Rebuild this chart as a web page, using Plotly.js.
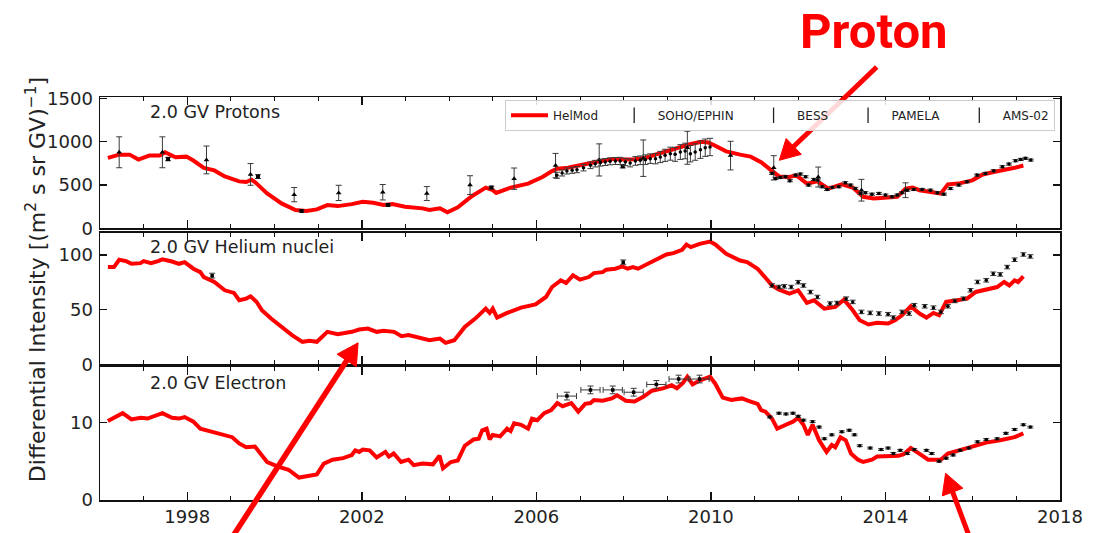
<!DOCTYPE html>
<html><head><meta charset="utf-8">
<script src="https://cdn.plot.ly/plotly-3.0.1.min.js"></script>
<style>html,body{margin:0;padding:0;background:#fff}#chart{width:1102px;height:533px}</style>
</head><body><div id="chart"></div>
<script>
// ---------- Protons (2.0 GV) ----------
const protonYears = [1996.18,1996.44,1996.68,1996.88,1997.13,1997.37,1997.49,1997.73,1997.98,1998.14,1998.38,1998.62,1998.86,1999.19,1999.35,1999.47,1999.55,1999.83,2000.16,2000.48,2000.73,2000.97,2001.21,2001.45,2001.77,2002.02,2002.26,2002.5,2002.7,2002.99,2003.39,2003.55,2003.79,2003.96,2004.2,2004.52,2004.84,2005.0,2005.08,2005.41,2005.81,2006.14,2006.36,2006.48,2006.72,2006.96,2007.2,2007.44,2007.77,2008.0,2008.25,2008.49,2008.73,2009.06,2009.38,2009.54,2009.78,2009.94,2010.1,2010.35,2010.67,2010.91,2011.15,2011.4,2011.56,2011.8,2011.96,2012.2,2012.44,2012.69,2013.0,2013.25,2013.49,2013.73,2014.02,2014.27,2014.46,2014.62,2014.78,2015.02,2015.27,2015.43,2015.67,2015.99,2016.23,2016.48,2016.72,2016.96,2017.16];
const protonHelMod = [813,851,851,794,840,840,878,821,828,783,699,669,600,543,536,562,536,403,289,213,201,220,270,258,281,308,296,270,281,251,232,213,232,186,243,372,471,441,410,471,517,593,661,688,699,726,752,775,802,794,798,813,851,904,954,973,999,992,954,889,851,828,764,669,600,593,612,517,543,460,509,471,365,346,357,365,460,471,441,422,403,509,517,555,623,650,669,699,726];

const protonSohoYears = [1996.44,1997.43,1998.44,1999.45,2000.45,2001.47,2002.48,2003.49,2004.48,2005.49,2006.44,2007.44,2008.45,2009.46,2010.45,2011.44,2012.46,2013.45,2014.46];
const protonSohoVals  = [878,878,790,623,390,410,418,403,500,574,725,790,810,930,840,699,593,441,441];
const protonSohoErr   = [178,178,160,125,82,88,89,80,108,123,140,185,210,190,165,140,115,125,85];

const protonBessYears = [1997.56,1999.62,2000.62,2002.6,2004.97,2007.98];
const protonBessVals  = [800,598,203,270,471,716];
const protonBessErr   = [20,22,10,12,15,18];

const protonPamelaYears = [2006.47,2006.59,2006.7,2006.82,2006.93,2007.08,2007.24,2007.35,2007.47,2007.58,2007.69,2007.81,2007.92,2008.04,2008.15,2008.27,2008.38,2008.5,2008.61,2008.73,2008.84,2008.95,2009.07,2009.18,2009.3,2009.41,2009.53,2009.64,2009.76,2009.87,2009.98];
const protonPamelaVals  = [613,640,663,671,678,701,728,747,759,766,774,778,778,766,755,778,786,793,805,805,824,843,862,854,881,893,862,881,908,931,939];
const protonPamelaErr   = [35,35,35,35,35,38,38,38,40,40,40,40,42,42,45,50,50,55,55,60,65,70,75,80,85,90,95,95,100,100,100];

const protonAmsYears = [2011.4,2011.48,2011.59,2011.71,2011.81,2011.94,2012.05,2012.17,2012.24,2012.36,2012.45,2012.55,2012.66,2012.78,2012.93,2013.08,2013.2,2013.31,2013.43,2013.54,2013.69,2013.85,2014.0,2014.15,2014.27,2014.38,2014.5,2014.65,2014.84,2015.03,2015.19,2015.34,2015.49,2015.68,2015.87,2016.1,2016.29,2016.48,2016.68,2016.83,2016.98,2017.1,2017.21,2017.33];
const protonAmsVals  = [635,577,588,596,550,615,627,596,500,565,558,481,450,473,481,527,500,462,404,412,396,404,385,365,385,412,442,450,450,442,412,396,462,500,538,615,635,665,712,742,781,796,808,788];

// ---------- Helium nuclei (2.0 GV) ----------
const heliumYears = [1996.18,1996.32,1996.44,1996.6,1996.72,1996.93,1997.0,1997.17,1997.33,1997.43,1997.65,1997.81,1997.94,1998.14,1998.3,1998.38,1998.62,1998.86,1999.07,1999.19,1999.35,1999.45,1999.59,1999.71,1999.92,2000.16,2000.4,2000.64,2000.8,2000.97,2001.21,2001.45,2001.77,2001.94,2002.14,2002.34,2002.5,2002.74,2002.91,2003.07,2003.39,2003.55,2003.79,2003.92,2004.12,2004.36,2004.6,2004.84,2004.93,2005.0,2005.1,2005.33,2005.65,2005.98,2006.22,2006.36,2006.56,2006.68,2006.84,2007.0,2007.2,2007.32,2007.52,2007.6,2007.81,2007.97,2008.09,2008.21,2008.33,2008.49,2008.73,2008.98,2009.14,2009.34,2009.44,2009.54,2009.74,2009.98,2010.1,2010.35,2010.67,2010.83,2011.07,2011.23,2011.4,2011.56,2011.8,2012.0,2012.2,2012.36,2012.6,2012.85,2013.05,2013.25,2013.41,2013.61,2013.81,2014.06,2014.22,2014.38,2014.58,2014.78,2014.94,2015.1,2015.23,2015.39,2015.59,2015.87,2016.07,2016.31,2016.56,2016.72,2016.84,2016.96,2017.04,2017.16];
const heliumHelMod = [88.8,88.8,95.5,94.2,91.8,92.4,94.2,92.4,94.2,95.8,93.9,91.8,93.3,87.3,84.2,79.7,75.2,67.6,65.2,58.5,60,62.1,57,49.4,41.8,34.2,26.7,20.6,21.5,20.6,29.7,27.6,29.7,31.8,32.7,29.7,30.6,29.7,25.8,26.7,23.6,22.1,23.6,19.7,22.1,34.2,41.8,50.9,47,50.9,42.7,47,51.8,54.8,61.5,70.6,76.7,74.2,81.2,77.3,79.7,83.3,84.2,86.4,87.3,89.4,87.3,88.8,87.3,90.3,94.8,100.3,101.5,104.5,109.4,107,110,112.1,109.4,100.9,94.8,93.3,87.3,79.7,72.1,68.2,64.5,67.6,56.1,58.5,50.9,52.4,59.1,49.4,40.3,36.4,37.9,37.3,40.3,44.8,53,46.4,42.7,47,44.8,57,57.9,60,66.1,68.2,70.6,75.2,72.1,76.7,75.2,80.3];

const heliumBessYears = [1998.57,2007.99];
const heliumBessVals  = [81,93.3];
const heliumBessErr   = [2.2,2.0];

const heliumAmsYears = [2011.4,2011.56,2011.68,2011.84,2012.0,2012.12,2012.28,2012.44,2012.73,2012.89,2013.1,2013.25,2013.45,2013.65,2013.85,2014.06,2014.18,2014.38,2014.54,2014.66,2014.9,2015.1,2015.27,2015.43,2015.59,2015.79,2015.95,2016.11,2016.31,2016.47,2016.63,2016.79,2016.96,2017.16,2017.32];
const heliumAmsVals  = [72,70.6,71.2,70.6,75,72,66,61.5,55.5,56,60,57,47.9,47,46.4,45.8,42.7,47.9,46.4,54,53,51.8,47.9,53,57.9,60,67.6,75.2,76.7,82.7,82.1,88.8,95.5,100.3,98.5];

// ---------- Electrons (2.0 GV) ----------
const electronYears = [1996.18,1996.36,1996.52,1996.72,1996.93,1997.09,1997.25,1997.43,1997.65,1997.81,1997.94,1998.14,1998.3,1998.54,1998.78,1999.03,1999.19,1999.35,1999.55,1999.71,1999.83,2000.08,2000.32,2000.56,2000.8,2000.97,2001.13,2001.33,2001.57,2001.77,2001.85,2001.94,2002.02,2002.18,2002.34,2002.46,2002.54,2002.62,2002.73,2002.9,2003.07,2003.19,2003.39,2003.63,2003.78,2003.86,2004.04,2004.2,2004.36,2004.56,2004.68,2004.76,2004.86,2004.93,2005.0,2005.17,2005.33,2005.41,2005.49,2005.65,2005.81,2005.9,2006.02,2006.18,2006.34,2006.48,2006.6,2006.8,2006.96,2007.12,2007.24,2007.32,2007.52,2007.73,2007.85,2008.05,2008.25,2008.45,2008.65,2008.9,2009.1,2009.22,2009.36,2009.46,2009.58,2009.74,2009.86,2009.98,2010.1,2010.27,2010.47,2010.71,2010.91,2011.07,2011.15,2011.25,2011.4,2011.52,2011.72,2011.88,2012.0,2012.12,2012.22,2012.33,2012.48,2012.65,2012.77,2012.85,2012.97,2013.09,2013.21,2013.37,2013.49,2013.69,2013.81,2014.06,2014.3,2014.42,2014.58,2014.74,2014.98,2015.15,2015.27,2015.43,2015.67,2015.99,2016.31,2016.63,2016.96,2017.16];
const electronHelMod = [10.2,10.7,11.2,10.4,10.6,10.5,10.8,11.2,10.6,10.5,10.7,10.1,9.2,8.8,8.4,8.1,7.3,6.8,6.9,5.8,4.9,4.3,3.9,2.9,3.1,3.3,4.7,5.2,5.4,5.8,6.4,6.2,6.5,6.4,5.5,5.9,6.2,5.6,6.0,4.9,5.2,4.5,4.7,4.6,5.7,4.1,4.9,5.1,7.0,7.8,7.9,9.0,9.2,7.8,8.4,8.2,9.2,8.9,9.9,9.7,9.2,10.5,10.3,11.2,11.6,12.5,12.1,12.5,11.4,12.4,12.5,12.9,12.8,13.1,13.5,12.8,12.7,13.3,14.1,14.4,14.8,14.4,15.1,15.9,14.9,15.4,15.7,15.9,15.0,13.2,12.9,13.1,12.7,12.4,11.6,11.4,10.5,9.2,9.7,10.1,10.6,9.7,8.4,9.7,7.7,6.2,7.1,6.8,8.1,7.7,6.0,5.2,4.9,5.2,5.6,5.7,5.7,5.9,6.7,6.1,5.2,5.2,5.2,6.0,6.4,6.9,7.4,7.7,8.1,8.6];

const electronPamelaYears = [2006.7,2007.24,2007.75,2008.23,2008.75,2009.26,2009.74];
const electronPamelaVals  = [13.4,14.2,14.2,13.9,14.9,15.6,15.6];
const electronPamelaErr   = [0.5,0.5,0.5,0.5,0.5,0.5,0.5];
const electronPamelaXErr  = [0.22,0.22,0.22,0.22,0.22,0.22,0.22];

const electronAmsYears = [2011.35,2011.56,2011.72,2011.88,2012.0,2012.12,2012.33,2012.48,2012.6,2012.77,2013.0,2013.17,2013.29,2013.41,2013.65,2013.9,2014.06,2014.18,2014.34,2014.5,2014.66,2014.94,2015.06,2015.23,2015.39,2015.55,2015.71,2015.91,2016.11,2016.31,2016.56,2016.76,2016.96,2017.16,2017.32];
const electronAmsVals  = [10.7,11.2,11.1,11.2,10.8,10.3,10.1,9.4,7.9,8.4,8.8,9.0,8.4,7.0,6.7,6.5,6.7,6.0,6.4,6.0,6.5,6.4,6.0,5.0,5.4,5.8,6.4,6.7,7.5,7.8,7.9,8.6,9.1,9.7,9.4];

const legendNames = ['HelMod','SOHO/EPHIN','BESS','PAMELA','AMS-02'];
const panelLabels = ['2.0 GV Protons','2.0 GV Helium nuclei','2.0 GV Electron'];
const xTickVals = [1998,2002,2006,2010,2014,2018];

// ---------- styling ----------
const RED = '#ff0000';
const nb = n => '\u00a0'.repeat(n);
const errStyle = (arr) => ({type:'data', array:arr, visible:true, color:'#3a3a3a', thickness:1, width:3});
function line(x,y,xa,ya,show){
  return {x:x,y:y,xaxis:xa,yaxis:ya,type:'scatter',mode:'lines',name:legendNames[0]+nb(2),
    line:{color:RED,width:4},showlegend:show,legendrank:1,hoverinfo:'skip'};
}
function pts(x,y,err,xa,ya,sym,size,xerr){
  const t = {x:x,y:y,xaxis:xa,yaxis:ya,type:'scatter',mode:'markers',
    marker:{color:'#000',symbol:sym,size:size},showlegend:false,hoverinfo:'skip'};
  if(err) t.error_y = errStyle(err);
  if(xerr) t.error_x = errStyle(xerr);
  return t;
}
function legendOnly(i){
  return {x:[null],y:[null],xaxis:'x',yaxis:'y',type:'scatter',mode:'markers',
    name:legendNames[i]+(i<4?nb(3):''),legendrank:i+1,showlegend:true,hoverinfo:'skip',
    marker:{symbol:'line-ns-open',size:11,color:'#222',line:{width:1.3,color:'#222'}}};
}
const data = [
  line(protonYears,protonHelMod,'x','y',true),
  line(heliumYears,heliumHelMod,'x2','y2',false),
  line(electronYears,electronHelMod,'x3','y3',false),
  pts(protonSohoYears,protonSohoVals,protonSohoErr,'x','y','triangle-up',5),
  pts(protonBessYears,protonBessVals,protonBessErr,'x','y','square',4),
  pts(protonPamelaYears,protonPamelaVals,protonPamelaErr,'x','y','circle',3.5),
  pts(protonAmsYears,protonAmsVals,protonAmsVals.map(v=>12),'x','y','circle',3.5),
  pts(heliumBessYears,heliumBessVals,heliumBessErr,'x2','y2','square',3.5),
  pts(heliumAmsYears,heliumAmsVals,heliumAmsVals.map(v=>1.6),'x2','y2','circle',3.5),
  pts(electronPamelaYears,electronPamelaVals,electronPamelaErr,'x3','y3','square',3.5,electronPamelaXErr),
  pts(electronAmsYears,electronAmsVals,electronAmsVals.map(v=>0.12),'x3','y3','circle',3.5),
  legendOnly(1), legendOnly(2), legendOnly(3), legendOnly(4)
];

const FONT = 'DejaVu Sans';
const AX = '#111';
function xax(anchor, labels){
  return {anchor:anchor, range:[1996,2018], domain:[0,1], showgrid:false, zeroline:false,
    showline:true, linecolor:AX, linewidth:1.5, mirror:'ticks',
    ticks:'inside', ticklen:8, tickwidth:1.5, tickcolor:AX,
    tickvals:xTickVals, ticktext:xTickVals.map(String), showticklabels:labels,
    tickfont:{family:FONT,size:18,color:'#222'},
    minor:{tick0:1996, dtick:1, ticks:'inside', ticklen:4, tickwidth:1, tickcolor:AX}};
}
function yax(anchor, dom, range, tv){
  return {anchor:anchor, domain:dom, range:range, showgrid:false, zeroline:false,
    showline:true, linecolor:AX, linewidth:1.5, mirror:'ticks',
    ticks:'inside', ticklen:7, tickwidth:1.5, tickcolor:AX,
    tickvals:tv, ticktext:tv.map(String), ticklabelstandoff:2,
    tickfont:{family:FONT,size:18,color:'#222'}};
}

// plot area in pixels: left 100, right 1060, top 96.7, bottom 500
const PL=100, PW=960, PB=500, PH=403.3;
const px = v => (v-PL)/PW, py = v => (PB-v)/PH;
function arrowShapes(tail, tip, w, L, H){
  const dx = tip[0]-tail[0], dy = tip[1]-tail[1], d = Math.hypot(dx,dy);
  const ux = dx/d, uy = dy/d, nx = -uy, ny = ux;
  const bx = tip[0]-L*ux, by = tip[1]-L*uy;
  const c1 = [bx+H*nx, by+H*ny], c2 = [bx-H*nx, by-H*ny];
  return [
    {type:'line',xref:'paper',yref:'paper',x0:px(tail[0]),y0:py(tail[1]),x1:px(bx+3*ux),y1:py(by+3*uy),
     line:{color:RED,width:w},layer:'above'},
    {type:'path',xref:'paper',yref:'paper',layer:'above',fillcolor:RED,line:{color:RED,width:1},
     path:'M'+px(tip[0])+','+py(tip[1])+'L'+px(c1[0])+','+py(c1[1])+'L'+px(c2[0])+','+py(c2[1])+'Z'}
  ];
}
const shapes = [].concat(
  arrowShapes([876.7,66.7],[779.3,160],5,20,11),
  arrowShapes([225.3,548],[358.1,342.7],5.5,21,11.5),
  arrowShapes([973.6,548],[945.6,473.3],5,20,11)
);

const layout = {
  width:1102, height:533,
  margin:{l:100, r:42, t:96.7, b:33},
  paper_bgcolor:'#fff', plot_bgcolor:'#fff',
  font:{family:FONT, color:'#222'},
  xaxis: xax('y',false),
  xaxis2: xax('y2',false),
  xaxis3: xax('y3',true),
  yaxis: yax('x',[0.6737,1],[0,1515],[0,500,1000,1500]),
  yaxis2: yax('x2',[0.3365,0.6628],[0,120],[0,50,100]),
  yaxis3: yax('x3',[0,0.329],[0,17.1],[0,10]),
  showlegend:true,
  legend:{orientation:'h', x:px(505), xanchor:'left', y:py(99.5), yanchor:'top',
    bgcolor:'rgba(255,255,255,0.85)', bordercolor:'#cccccc', borderwidth:1,
    font:{family:FONT,size:12,color:'#222'}, itemwidth:37, tracegroupgap:0},
  shapes: shapes,
  annotations:[
    {xref:'paper',yref:'paper',x:px(148),y:py(111.5),xanchor:'left',yanchor:'middle',showarrow:false,
     text:panelLabels[0],font:{family:FONT,size:17.5,color:'#222'}},
    {xref:'paper',yref:'paper',x:px(148),y:py(246.5),xanchor:'left',yanchor:'middle',showarrow:false,
     text:panelLabels[1],font:{family:FONT,size:17.5,color:'#222'}},
    {xref:'paper',yref:'paper',x:px(148),y:py(383),xanchor:'left',yanchor:'middle',showarrow:false,
     text:panelLabels[2],font:{family:FONT,size:17.5,color:'#222'}},
    {xref:'paper',yref:'paper',x:px(36),y:py(280),xanchor:'center',yanchor:'middle',showarrow:false,textangle:-90,
     text:'Differential Intensity [(m<sup>2</sup> s sr GV)<sup>\u22121</sup>]',font:{family:FONT,size:22,color:'#222'}},
    {xref:'paper',yref:'paper',x:px(874),y:py(31),xanchor:'center',yanchor:'middle',showarrow:false,
     text:'<b>Proton</b>',font:{family:'Roboto',size:49,weight:900,color:RED}}
  ]
};
Plotly.newPlot('chart', data, layout, {staticPlot:true, displayModeBar:false});
</script></body></html>
